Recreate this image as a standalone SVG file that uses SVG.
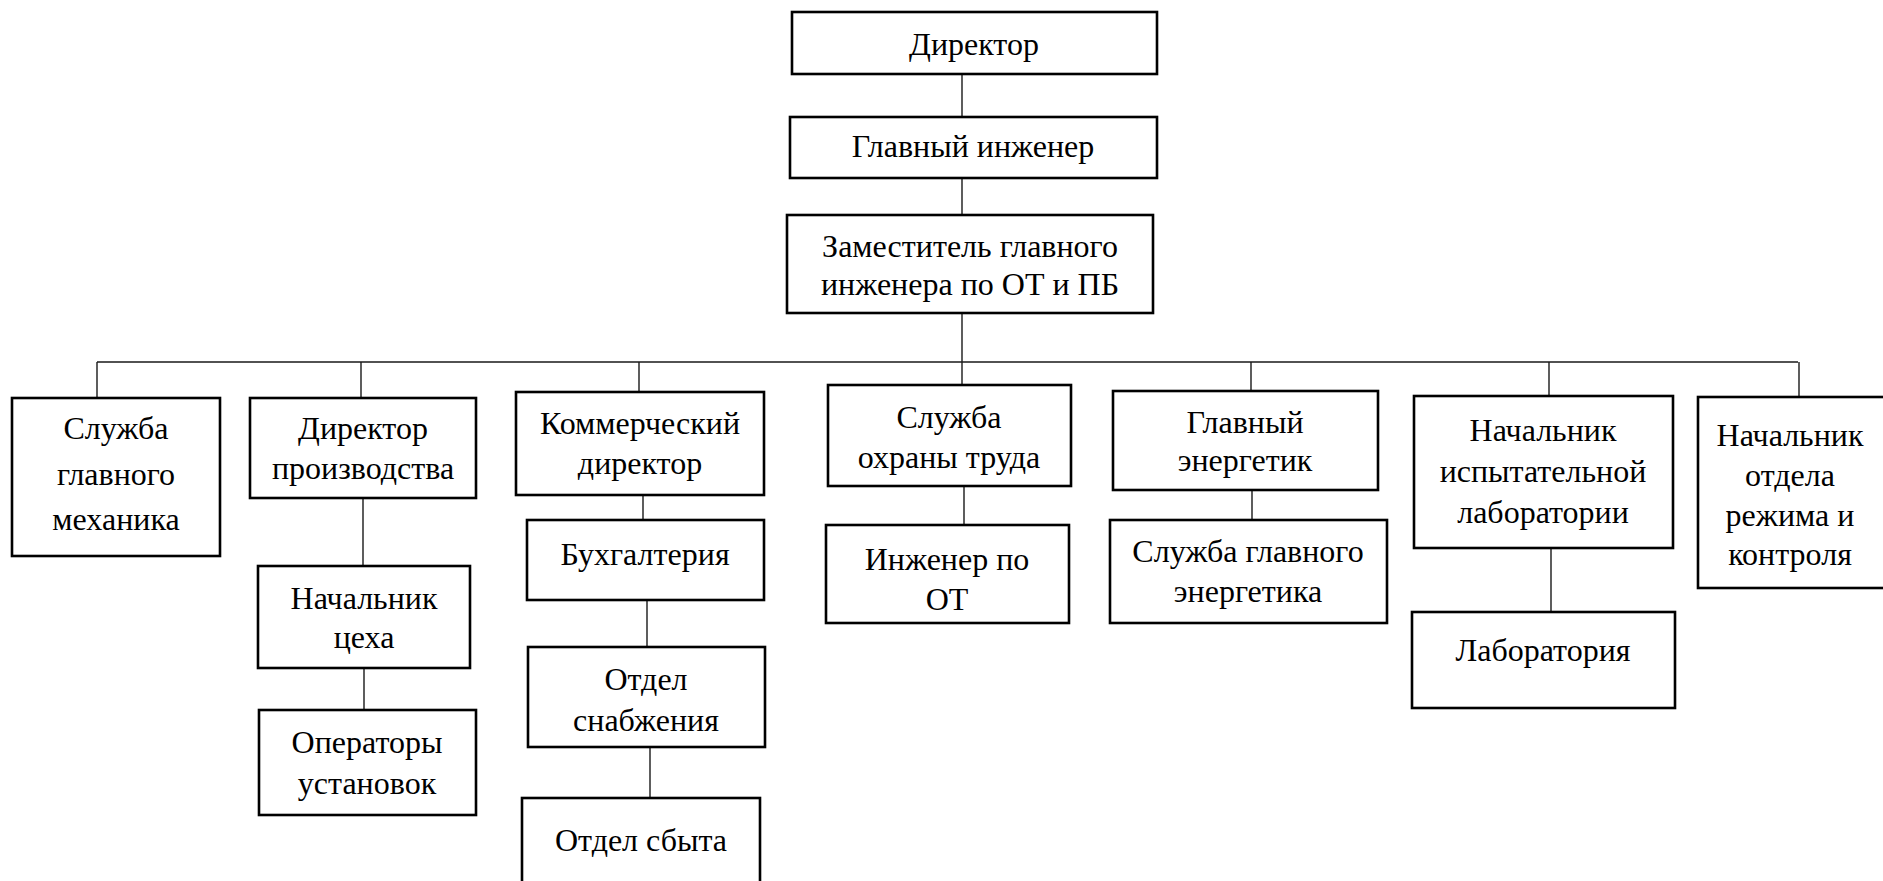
<svg xmlns="http://www.w3.org/2000/svg" width="1883" height="881" viewBox="0 0 1883 881">
<style>
.box{fill:#fff;stroke:#000;stroke-width:2.6}
.ln{stroke:#1a1a1a;stroke-width:1.4;fill:none}
.t{font-size:32px;fill:#000;text-anchor:middle}
</style>
<rect width="1883" height="881" fill="#fff"/>
<g id="connectors">
<path class="ln" d="M962 74V117M962 178V215M962 313V385M97 362H1798M97 362V398M361 362V398M639 362V392M1251 362V391M1549 362V396M1799 362V397"/>
<path class="ln" d="M363 498V566M364 668V710M643 495V520M647 600V647M650 747V798M964 486V525M1252 490V520M1551 548V612"/>
</g>
<g class="t" font-family="'Liberation Serif', 'Times New Roman', Tinos, 'DejaVu Serif', serif">
<g id="director"><rect class="box" x="792" y="12" width="365" height="62"/><text x="974" y="55">Директор</text></g>
<g id="chief-engineer"><rect class="box" x="790" y="117" width="367" height="61"/><text x="973" y="157">Главный инженер</text></g>
<g id="deputy"><rect class="box" x="787" y="215" width="366" height="98"/><text x="970" y="257">Заместитель главного</text><text x="970" y="295">инженера по ОТ и ПБ</text></g>
<g id="mech"><rect class="box" x="12" y="398" width="208" height="158"/><text x="116" y="439">Служба</text><text x="116" y="485">главного</text><text x="116" y="530">механика</text></g>
<g id="prod-dir"><rect class="box" x="250" y="398" width="226" height="100"/><text x="363" y="439">Директор</text><text x="363" y="479">производства</text></g>
<g id="shop-head"><rect class="box" x="258" y="566" width="212" height="102"/><text x="364" y="609">Начальник</text><text x="364" y="648">цеха</text></g>
<g id="operators"><rect class="box" x="259" y="710" width="217" height="105"/><text x="367" y="753">Операторы</text><text x="367" y="794">установок</text></g>
<g id="comm-dir"><rect class="box" x="516" y="392" width="248" height="103"/><text x="640" y="434">Коммерческий</text><text x="640" y="474">директор</text></g>
<g id="accounting"><rect class="box" x="527" y="520" width="237" height="80"/><text x="645" y="565">Бухгалтерия</text></g>
<g id="supply"><rect class="box" x="528" y="647" width="237" height="100"/><text x="646" y="690">Отдел</text><text x="646" y="731">снабжения</text></g>
<g id="sales"><rect class="box" x="522" y="798" width="238" height="95"/><text x="641" y="851">Отдел сбыта</text></g>
<g id="safety"><rect class="box" x="828" y="385" width="243" height="101"/><text x="949" y="428">Служба</text><text x="949" y="468">охраны труда</text></g>
<g id="safety-eng"><rect class="box" x="826" y="525" width="243" height="98"/><text x="947" y="570">Инженер по</text><text x="947" y="610">ОТ</text></g>
<g id="energy"><rect class="box" x="1113" y="391" width="265" height="99"/><text x="1245" y="433">Главный</text><text x="1245" y="471">энергетик</text></g>
<g id="energy-service"><rect class="box" x="1110" y="520" width="277" height="103"/><text x="1248" y="562">Служба главного</text><text x="1248" y="602">энергетика</text></g>
<g id="lab-head"><rect class="box" x="1414" y="396" width="259" height="152"/><text x="1543" y="441">Начальник</text><text x="1543" y="482">испытательной</text><text x="1543" y="523">лаборатории</text></g>
<g id="lab"><rect class="box" x="1412" y="612" width="263" height="96"/><text x="1543" y="661">Лаборатория</text></g>
<g id="regime-head"><rect class="box" x="1698" y="397" width="188" height="191"/><text x="1790" y="446">Начальник</text><text x="1790" y="486">отдела</text><text x="1790" y="526">режима и</text><text x="1790" y="565">контроля</text></g>
</g>
</svg>
